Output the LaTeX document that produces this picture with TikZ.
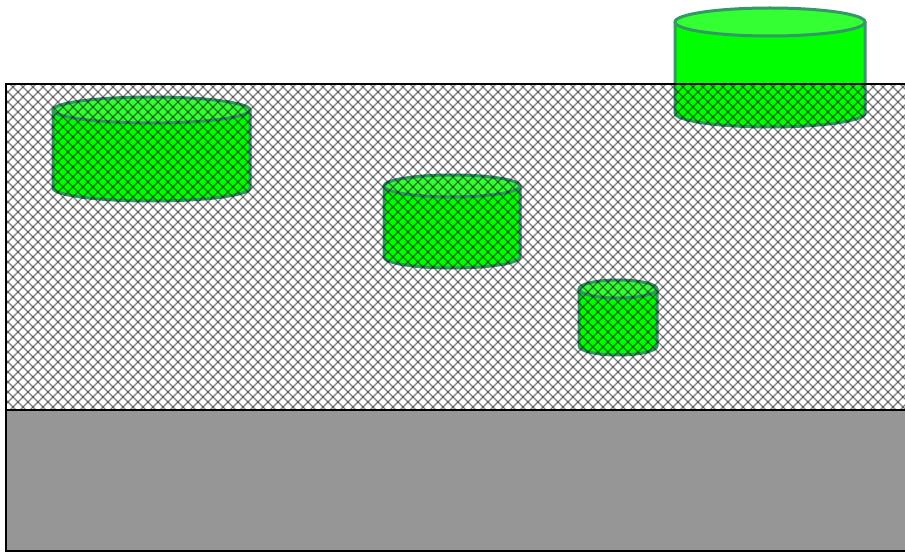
\documentclass[tikz,border=0pt]{standalone}
\definecolor{cylgreen}{RGB}{0,255,0}
\definecolor{cyltopgreen}{RGB}{51,255,51}
\definecolor{cylstroke}{RGB}{50,155,100}
\definecolor{groundgray}{RGB}{150,150,150}
\tikzset{
  cylbody/.style={fill=cylgreen},
  cyltop/.style={fill=cyltopgreen, draw=cylstroke, line width=3pt},
  cylline/.style={draw=cylstroke, line width=3pt},
  hatchline/.style={draw=black, draw opacity=0.5, line width=1.2pt},
  border/.style={draw=black, line width=2pt},
}
\newcommand\mycyl[5]{%
  \pgfmathsetmacro\mycx{(#1+#2)/2}%
  \pgfmathsetmacro\myrx{(#2-#1)/2}%
  \fill[cylbody] (#1,#3) -- (#1,#4) arc[start angle=180,end angle=360,x radius=\myrx pt,y radius=#5pt] -- (#2,#3) -- cycle;
  \draw[cylline] (#1,#3) -- (#1,#4) arc[start angle=180,end angle=360,x radius=\myrx pt,y radius=#5pt] -- (#2,#3);
  \path[cyltop] (\mycx,#3) ellipse[x radius=\myrx pt,y radius=#5pt];
}
\begin{document}
\begin{tikzpicture}[x=1pt,y=-1pt]
\useasboundingbox (0,0) rectangle (905,553);
\fill[white] (0,0) rectangle (905,553);
% ground
\fill[groundgray] (6,410) rectangle (910,551);
% cylinders
\mycyl{53}{250}{110}{188}{13}
\mycyl{384}{520}{186}{257}{11}
\mycyl{579}{657}{289}{346}{9}
\mycyl{675}{865}{22}{113}{14}
% hatch
\begin{scope}
  \clip (6,84) rectangle (910,410);
  \foreach \k in {-340,-330,...,920} {
    \draw[hatchline] (\k,84) -- ++(326,326);
    \draw[hatchline] (\k+326,84) -- ++(-326,326);
  }
\end{scope}
% borders
\draw[border] (912,84) -- (6,84) -- (6,551) -- (912,551);
\draw[border] (6,410) -- (912,410);
\end{tikzpicture}
\end{document}
